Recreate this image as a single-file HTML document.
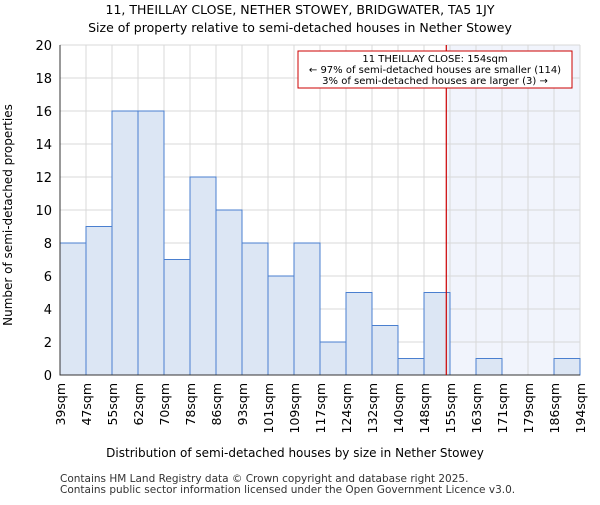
<!DOCTYPE html>
<html><head><meta charset="utf-8"><style>body{margin:0;background:#fff}svg{font-family:"DejaVu Sans","Liberation Sans",sans-serif}</style></head>
<body>
<svg id="chart" width="600" height="500">
<text x="300" y="14" text-anchor="middle" font-size="12.5">11, THEILLAY CLOSE, NETHER STOWEY, BRIDGWATER, TA5 1JY</text>
<text x="300" y="32" text-anchor="middle" font-size="12.5">Size of property relative to semi-detached houses in Nether Stowey</text>
<g id="grid"></g><g id="bars"></g><g id="axes"></g>
<text x="295" y="457" text-anchor="middle" font-size="12">Distribution of semi-detached houses by size in Nether Stowey</text>
<text transform="translate(12,215) rotate(-90)" text-anchor="middle" font-size="12">Number of semi-detached properties</text>
<text x="60" y="482" font-size="10.5" fill="#333">Contains HM Land Registry data © Crown copyright and database right 2025.</text>
<text x="60" y="493" font-size="10.5" fill="#333">Contains public sector information licensed under the Open Government Licence v3.0.</text>
</svg>
<script>
const edges=["39sqm","47sqm","55sqm","62sqm","70sqm","78sqm","86sqm","93sqm","101sqm","109sqm","117sqm","124sqm","132sqm","140sqm","148sqm","155sqm","163sqm","171sqm","179sqm","186sqm","194sqm"];
const counts=[8,9,16,16,7,12,10,8,6,8,2,5,3,1,5,0,1,0,0,1];
const yTicks=[0,2,4,6,8,10,12,14,16,18,20];
const markerBin=14+6/7;
const NS="http://www.w3.org/2000/svg";
const X0=60,X1=580,Y0=375,Y1=45,bw=(X1-X0)/counts.length;
const xs=i=>X0+i*bw, ys=v=>Y0-(v/20)*(Y0-Y1);
function mk(t,a,p){const e=document.createElementNS(NS,t);for(const k in a)e.setAttribute(k,a[k]);p.appendChild(e);return e;}
const grid=document.getElementById('grid'),bars=document.getElementById('bars'),axes=document.getElementById('axes');
const mx=xs(markerBin);
const sh=mk('rect',{x:mx,y:Y1,width:X1-mx,height:Y0-Y1,fill:'#f1f4fc'},grid);


yTicks.forEach(v=>{const l=mk('line',{x1:X0,x2:X1,y1:ys(v),y2:ys(v),stroke:'#d8d8d8'},grid);


const t=mk('text',{x:X0-8,y:ys(v)+5,'text-anchor':'end','font-size':'13'},axes);t.textContent=v;

});
edges.forEach((e,i)=>{const l=mk('line',{x1:xs(i),x2:xs(i),y1:Y1,y2:Y0,stroke:'#d8d8d8'},grid);


const t=mk('text',{transform:`translate(${xs(i)+5},${Y0+8}) rotate(-90)`,'text-anchor':'end','font-size':'12.5'},axes);t.textContent=e;

});
counts.forEach((c,i)=>{if(!c)return;const r=mk('rect',{x:xs(i),y:ys(c),width:bw,height:Y0-ys(c),fill:'#dce6f4',stroke:'#4a7fcf','stroke-width':1},bars);

});
const ax=mk('path',{d:`M${X0},${Y1}V${Y0}H${X1}`,fill:'none',stroke:'#333'},axes);


const ml=mk('line',{x1:mx,x2:mx,y1:Y1,y2:Y0,stroke:'#cc0000','stroke-width':1.2},axes);


const box=mk('rect',{x:298,y:51,width:274,height:37,fill:'#fff',stroke:'#cc0000'},axes);


["11 THEILLAY CLOSE: 154sqm","← 97% of semi-detached houses are smaller (114)","3% of semi-detached houses are larger (3) →"].forEach((s,i)=>{const t=mk('text',{x:435,y:62+i*11,'text-anchor':'middle','font-size':'10'},axes);t.textContent=s;

});
</script>
</body></html>
